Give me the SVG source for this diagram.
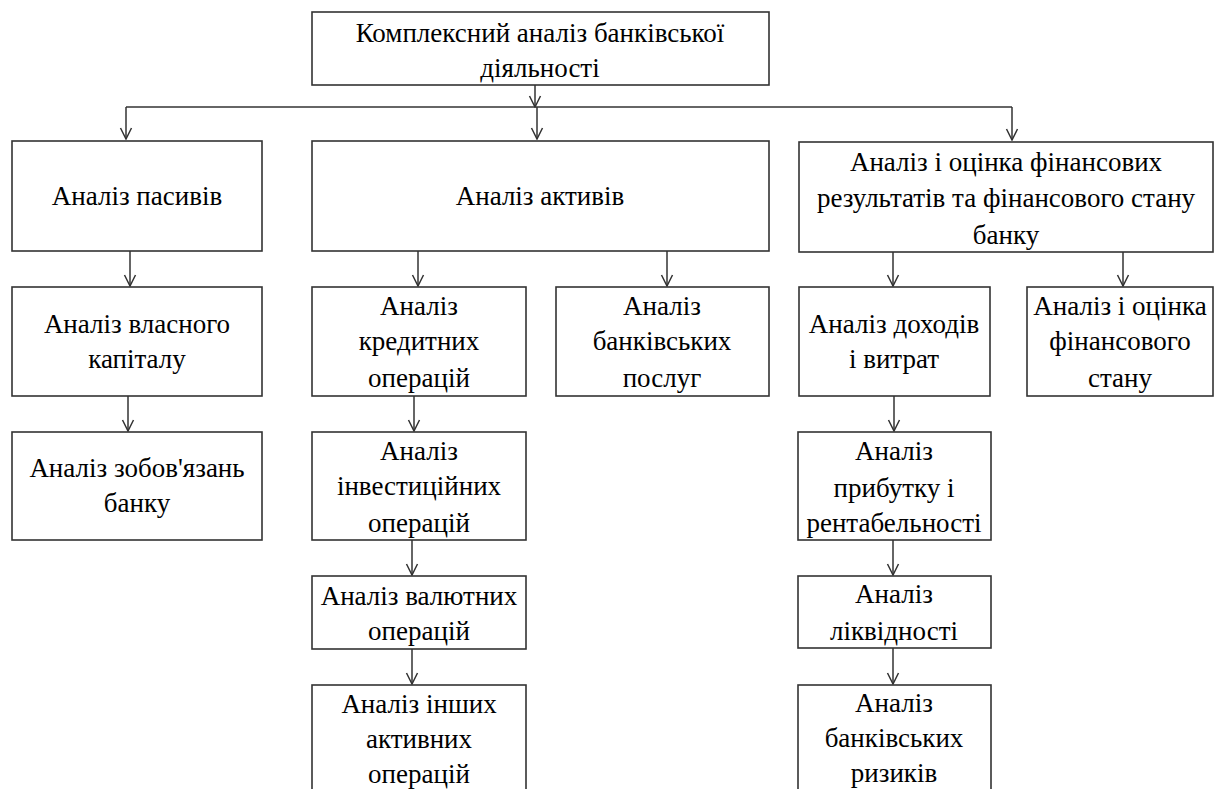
<svg xmlns="http://www.w3.org/2000/svg" width="1214" height="789" viewBox="0 0 1214 789">
<style>
rect{fill:#fff;stroke:#333;stroke-width:1.6}
.c line{stroke:#333;stroke-width:1.5;fill:none}
</style>
<defs>
<marker id="a" markerUnits="userSpaceOnUse" viewBox="-13 -7 14 14" refX="0" refY="0" markerWidth="14" markerHeight="14" orient="auto">
<polyline points="-11,-5.5 0,0 -11,5.5" fill="none" stroke="#333" stroke-width="1.5"/>
</marker>
</defs>
<rect x="0" y="0" width="1214" height="789" style="stroke:none"/>
<g class="c" id="connectors">
<line x1="535" y1="85" x2="535" y2="107" marker-end="url(#a)"/>
<line x1="126" y1="107" x2="1012" y2="107"/>
<line x1="126" y1="107" x2="126" y2="139" marker-end="url(#a)"/>
<line x1="1012" y1="107" x2="1012" y2="140" marker-end="url(#a)"/>
<line x1="537" y1="107" x2="537" y2="139" marker-end="url(#a)"/>
<line x1="130" y1="251" x2="130" y2="286" marker-end="url(#a)"/>
<line x1="418" y1="251" x2="418" y2="286" marker-end="url(#a)"/>
<line x1="667" y1="251" x2="667" y2="286" marker-end="url(#a)"/>
<line x1="893" y1="252" x2="893" y2="286" marker-end="url(#a)"/>
<line x1="1123" y1="252" x2="1123" y2="286" marker-end="url(#a)"/>
<line x1="128" y1="396" x2="128" y2="431" marker-end="url(#a)"/>
<line x1="414" y1="396" x2="414" y2="431" marker-end="url(#a)"/>
<line x1="412" y1="540" x2="412" y2="575" marker-end="url(#a)"/>
<line x1="412" y1="649" x2="412" y2="684" marker-end="url(#a)"/>
<line x1="894" y1="396" x2="894" y2="431" marker-end="url(#a)"/>
<line x1="893" y1="540" x2="893" y2="575" marker-end="url(#a)"/>
<line x1="893" y1="648" x2="893" y2="684" marker-end="url(#a)"/>
</g>
<g font-family="Liberation Serif, Times New Roman, serif" font-size="27" fill="#000" text-anchor="middle">
<g id="root"><rect x="312" y="12" width="457" height="73"/><text x="540" y="42">Комплексний аналіз банківської</text><text x="540" y="77">діяльності</text></g>
<g id="pasyvy"><rect x="12" y="141" width="250" height="110"/><text x="137" y="205">Аналіз пасивів</text></g>
<g id="aktyvy"><rect x="312" y="141" width="457" height="110"/><text x="540" y="205">Аналіз активів</text></g>
<g id="finrez"><rect x="799" y="142" width="414" height="110"/><text x="1006" y="171">Аналіз і оцінка фінансових</text><text x="1006" y="207">результатів та фінансового стану</text><text x="1006" y="244">банку</text></g>
<g id="kapital"><rect x="12" y="287" width="250" height="109"/><text x="137" y="333">Аналіз власного</text><text x="137" y="368">капіталу</text></g>
<g id="zobov"><rect x="12" y="432" width="250" height="108"/><text x="137" y="477">Аналіз зобов'язань</text><text x="137" y="512">банку</text></g>
<g id="kredyt"><rect x="312" y="287" width="214" height="109"/><text x="419" y="315">Аналіз</text><text x="419" y="350">кредитних</text><text x="419" y="387">операцій</text></g>
<g id="poslugy"><rect x="556" y="287" width="213" height="109"/><text x="662" y="315">Аналіз</text><text x="662" y="350">банківських</text><text x="662" y="387">послуг</text></g>
<g id="invest"><rect x="312" y="432" width="214" height="108"/><text x="419" y="460">Аналіз</text><text x="419" y="495">інвестиційних</text><text x="419" y="532">операцій</text></g>
<g id="valyut"><rect x="312" y="576" width="214" height="73"/><text x="419" y="605">Аналіз валютних</text><text x="419" y="640">операцій</text></g>
<g id="inshi"><rect x="312" y="685" width="214" height="120"/><text x="419" y="713">Аналіз інших</text><text x="419" y="748">активних</text><text x="419" y="783">операцій</text></g>
<g id="dohody"><rect x="799" y="287" width="191" height="109"/><text x="894" y="333">Аналіз доходів</text><text x="894" y="368">і витрат</text></g>
<g id="finstan"><rect x="1027" y="287" width="186" height="109"/><text x="1120" y="315">Аналіз і оцінка</text><text x="1120" y="350">фінансового</text><text x="1120" y="387">стану</text></g>
<g id="prybutok"><rect x="798" y="432" width="193" height="108"/><text x="894" y="460">Аналіз</text><text x="894" y="497">прибутку і</text><text x="894" y="532">рентабельності</text></g>
<g id="likvid"><rect x="798" y="576" width="193" height="72"/><text x="894" y="603">Аналіз</text><text x="894" y="640">ліквідності</text></g>
<g id="ryzyky"><rect x="798" y="685" width="193" height="120"/><text x="894" y="712">Аналіз</text><text x="894" y="747">банківських</text><text x="894" y="782">ризиків</text></g>
</g>
</svg>
